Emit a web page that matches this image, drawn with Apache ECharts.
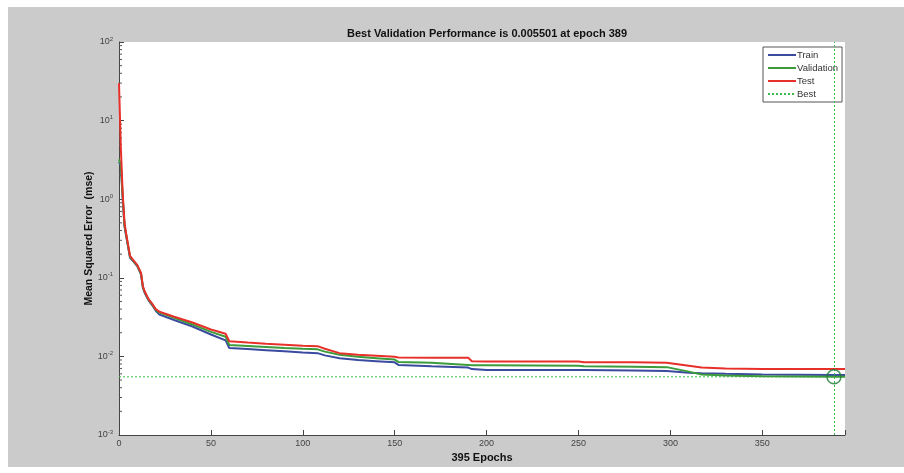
<!DOCTYPE html>
<html>
<head>
<meta charset="utf-8">
<script src="https://cdn.jsdelivr.net/npm/echarts@6/dist/echarts.min.js"></script>
<style>
  html, body { margin: 0; padding: 0; background: #fff; }
  #chart { width: 904px; height: 473px; }
</style>
</head>
<body>
<div id="chart"></div>
<script>
// epochs where the curves are sampled (steps use two close epochs)
const epochs = [0, 1, 2, 3, 4, 6, 8, 10, 12, 13, 14, 16, 18, 20, 22, 30, 40, 50, 58, 60, 70, 80, 90, 100, 108, 112, 120, 130, 140, 150, 152, 170, 190, 192, 200, 250, 253, 280, 298, 310, 317, 330, 350, 389, 395]
const trainMse = [3.0, 2.7, 1.0, 0.45, 0.33, 0.18, 0.16, 0.14, 0.11, 0.075, 0.064, 0.052, 0.045, 0.038, 0.034, 0.029, 0.024, 0.019, 0.016, 0.0128, 0.0124, 0.012, 0.0116, 0.0112, 0.011, 0.0103, 0.0095, 0.009, 0.0087, 0.0084, 0.0078, 0.0075, 0.0072, 0.0069, 0.0067, 0.0067, 0.0067, 0.0066, 0.0065, 0.0062, 0.0061, 0.006, 0.0059, 0.0058, 0.0058]
const valMse = [3.2, 2.8, 1.1, 0.47, 0.34, 0.185, 0.162, 0.142, 0.112, 0.077, 0.066, 0.053, 0.046, 0.039, 0.036, 0.031, 0.0255, 0.0205, 0.0178, 0.014, 0.0136, 0.0132, 0.0128, 0.0125, 0.0123, 0.0115, 0.0105, 0.0099, 0.0095, 0.0091, 0.0085, 0.0083, 0.0078, 0.0077, 0.0077, 0.0076, 0.0075, 0.0074, 0.0073, 0.0064, 0.0059, 0.0057, 0.0056, 0.005501, 0.0055]
const testMse = [30, 4.5, 1.2, 0.5, 0.35, 0.19, 0.165, 0.145, 0.115, 0.078, 0.067, 0.054, 0.047, 0.04, 0.037, 0.032, 0.027, 0.022, 0.0194, 0.0156, 0.015, 0.0145, 0.0141, 0.0137, 0.0135, 0.0125, 0.011, 0.0105, 0.0102, 0.0099, 0.0097, 0.0096, 0.0096, 0.0087, 0.0086, 0.0086, 0.0084, 0.0084, 0.0083, 0.0076, 0.0072, 0.007, 0.0069, 0.0069, 0.0069]
const bestEpoch = 389
const bestPerf = 0.005501
const xTicks = [0, 50, 100, 150, 200, 250, 300, 350]
const minorTickVals = []
for (let e = -3; e < 2; e++) {
  for (let m = 2; m <= 9; m++) minorTickVals.push(m * Math.pow(10, e))
}

const chart = echarts.init(document.getElementById('chart'), null, { renderer: 'canvas' })
const pairs = (ys) => epochs.map((e, i) => [e, ys[i]])
const font = 'Arial, "Liberation Sans", sans-serif'
const xMax = 395
const bestColor = '#3dbb48'

const option = {
  backgroundColor: '#fff',
  animation: false,
  graphic: [
    { type: 'rect', z: -10, shape: { x: 8, y: 7, width: 896, height: 460 }, style: { fill: '#cbcbcb' } },
    { type: 'rect', z: -9, shape: { x: 119, y: 42, width: 726, height: 393 }, style: { fill: '#fff' } }
  ],
  title: {
    text: 'Best Validation Performance is 0.005501 at epoch ' + bestEpoch,
    left: 482,
    textAlign: 'center',
    top: 23,
    textStyle: { fontSize: 11, fontWeight: 'bold', color: '#111', fontFamily: font }
  },
  legend: {
    orient: 'vertical',
    left: 763,
    top: 47,
    width: 79,
    itemWidth: 28,
    itemHeight: 8,
    itemGap: 3,
    padding: [3, 4, 3, 4],
    backgroundColor: '#fff',
    borderColor: '#555',
    borderWidth: 1,
    itemStyle: { opacity: 0 },
    textStyle: { fontSize: 9.5, color: '#333', fontFamily: font, padding: [0, 0, 0, -4] },
    data: ['Train', 'Validation', 'Test', 'Best']
  },
  grid: { left: 119, top: 42, right: 59, bottom: 38 },
  xAxis: {
    type: 'value',
    min: 0,
    max: xMax,
    interval: 50,
    name: xMax + ' Epochs',
    nameLocation: 'middle',
    nameGap: 16,
    nameTextStyle: { fontSize: 11, fontWeight: 'bold', color: '#111', fontFamily: font },
    axisLine: { lineStyle: { color: '#444', width: 1 } },
    axisTick: { inside: true, length: 5, lineStyle: { color: '#444' } },
    axisLabel: {
      fontSize: 9, color: '#444', margin: 4, fontFamily: font,
      formatter: (v) => (xTicks.includes(v) ? String(v) : '')
    },
    splitLine: { show: false }
  },
  yAxis: {
    type: 'log',
    logBase: 10,
    min: 0.001,
    max: 100,
    name: 'Mean Squared Error  (mse)',
    nameLocation: 'middle',
    nameGap: 24,
    nameMoveOverlap: false,
    nameTextStyle: { fontSize: 10.5, fontWeight: 'bold', color: '#111', fontFamily: font },
    axisLine: { show: true, lineStyle: { color: '#444', width: 1 } },
    axisTick: { show: true, inside: true, length: 5, lineStyle: { color: '#444' } },
    axisLabel: {
      margin: 6,
      formatter: (v) => '{b|10}{s|' + Math.round(Math.log10(v)) + '}',
      rich: {
        b: { fontSize: 9, color: '#444', fontFamily: font },
        s: { fontSize: 6, color: '#444', fontFamily: font, verticalAlign: 'top', padding: [0, 0, 6, 0] }
      }
    },
    splitLine: { show: false }
  },
  series: [
    {
      name: 'MinorTicks',
      type: 'custom',
      silent: true,
      data: minorTickVals.map((v) => [0, v]),
      renderItem: (params, api) => {
        const p = api.coord([0, api.value(1)])
        return {
          type: 'line',
          shape: { x1: p[0], y1: p[1], x2: p[0] + 3, y2: p[1] },
          style: { stroke: '#555', lineWidth: 1 }
        }
      },
      z: 1
    },
    {
      name: 'Train',
      type: 'line',
      data: pairs(trainMse),
      symbol: 'none',
      color: '#3a4a9e',
      lineStyle: { width: 2, color: '#3a4a9e' },
      z: 3
    },
    {
      name: 'Validation',
      type: 'line',
      data: pairs(valMse),
      symbol: 'none',
      color: '#3c9c3c',
      lineStyle: { width: 2, color: '#3c9c3c' },
      z: 4
    },
    {
      name: 'Test',
      type: 'line',
      data: pairs(testMse),
      symbol: 'none',
      color: '#e8302a',
      lineStyle: { width: 2, color: '#e8302a' },
      z: 5
    },
    {
      name: 'Best',
      type: 'line',
      data: [[0, bestPerf], [xMax, bestPerf]],
      symbol: 'none',
      color: bestColor,
      lineStyle: { width: 1, type: [2, 2], color: bestColor },
      markLine: {
        silent: true,
        symbol: 'none',
        label: { show: false },
        lineStyle: { width: 1, type: [2, 2], color: bestColor },
        data: [{ xAxis: bestEpoch }]
      },
      z: 2
    },
    {
      name: 'BestPoint',
      type: 'scatter',
      data: [[bestEpoch, bestPerf]],
      symbol: 'circle',
      symbolSize: 14,
      itemStyle: { color: 'rgba(0,0,0,0)', borderColor: '#1f7a35', borderWidth: 1.5 },
      z: 6
    }
  ]
}

chart.setOption(option)
window.addEventListener('resize', function () {
  chart.resize()
})
</script>
</body>
</html>
